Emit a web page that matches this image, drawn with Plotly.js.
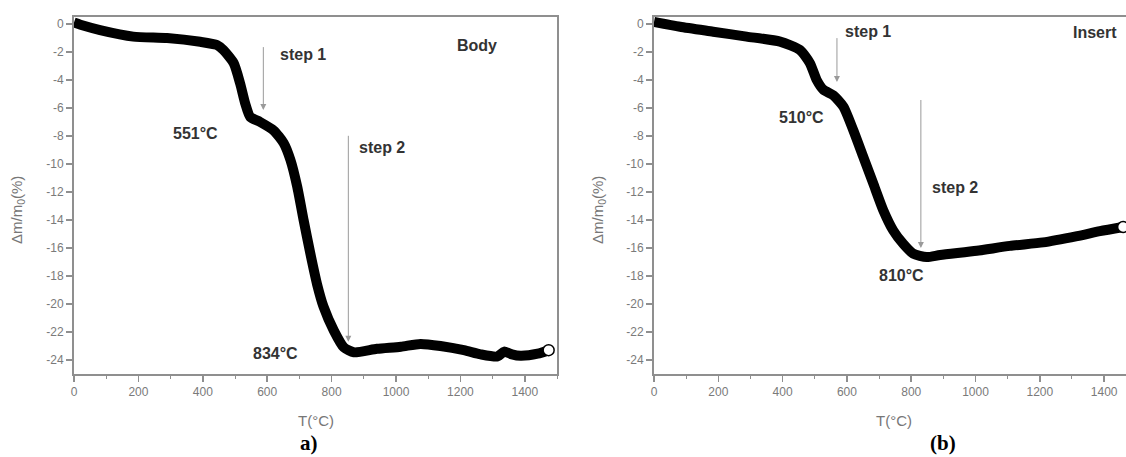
<!DOCTYPE html>
<html>
<head>
<meta charset="utf-8">
<script src="https://cdn.plot.ly/plotly-3.0.1.min.js"></script>
<style>html,body{margin:0;padding:0;background:#fff;}#chart{width:1126px;height:457px;}</style>
</head>
<body>
<div id="chart"></div>
<script>
// ---- data ----
const bodyT = [0, 20, 81, 184, 289, 392, 444, 464, 496, 516, 532, 547, 578, 620, 651, 672, 693, 713, 734, 755, 775, 807, 838, 869, 941, 1015, 1076, 1138, 1211, 1263, 1315, 1336, 1360, 1387, 1440, 1474];
const bodyM = [0.1, -0.05, -0.43, -0.9, -1.0, -1.27, -1.5, -1.86, -2.8, -4.25, -5.7, -6.63, -7.0, -7.6, -8.5, -9.7, -11.6, -14.0, -16.4, -18.6, -20.2, -21.9, -23.1, -23.45, -23.2, -23.05, -22.85, -23.0, -23.3, -23.6, -23.75, -23.4, -23.6, -23.7, -23.55, -23.3];

const insertT = [0, 81, 184, 288, 392, 454, 485, 506, 527, 558, 589, 620, 651, 682, 713, 744, 775, 806, 848, 890, 1004, 1107, 1210, 1316, 1387, 1459];
const insertM = [0.15, -0.2, -0.55, -0.9, -1.26, -1.86, -2.8, -4.0, -4.7, -5.1, -5.9, -7.6, -9.5, -11.4, -13.3, -14.75, -15.7, -16.4, -16.65, -16.5, -16.2, -15.85, -15.6, -15.15, -14.8, -14.5];

const yTickVals = [0, -2, -4, -6, -8, -10, -12, -14, -16, -18, -20, -22, -24];
const yTickText = ["0", "-2", "-4", "-6", "-8", "-10", "-12", "-14", "-16", "-18", "-20", "-22", "-24"];

// step annotations: [label, T, m]
const bodySteps = [["step 1", 588, -6.15], ["step 2", 852, -22.7]];
const insertSteps = [["step 1", 569, -4.15], ["step 2", 830, -16.0]];
const bodyTemps = [["551°C", 376, -7.8], ["834°C", 625, -23.5]];
const insertTemps = [["510°C", 460, -6.66], ["810°C", 771, -17.97]];

// ---- styling ----
const W = 1126, H = 457;
const axisGray = '#8f8f8f';
const tickFont = {family: 'Liberation Sans, Arial, sans-serif', size: 12, color: '#7a7a7a'};
const annFont = {family: 'Liberation Sans, Arial, sans-serif', size: 16, color: '#333'};
const titleFont = {family: 'Liberation Sans, Arial, sans-serif', size: 15, color: '#777'};
const panelFont = {family: 'Liberation Serif, Times New Roman, serif', size: 21, color: '#000'};

function curve(x, y, xa, ya) {
  return [
    {x: x, y: y, xaxis: xa, yaxis: ya, mode: 'lines', type: 'scatter',
     line: {color: '#000', width: 10, shape: 'spline', smoothing: 0.6}, hoverinfo: 'skip'},
    {x: [x[x.length - 1]], y: [y[y.length - 1]], xaxis: xa, yaxis: ya, mode: 'markers', type: 'scatter',
     marker: {symbol: 'circle', size: 11, color: '#fff', line: {color: '#000', width: 1.5}}, hoverinfo: 'skip'}
  ];
}

const data = [].concat(curve(bodyT, bodyM, 'x', 'y'), curve(insertT, insertM, 'x2', 'y2'));

const yDom = [(H - 374) / H, (H - 17) / H];
function xAxis(dom, range) {
  return {domain: dom, range: range, tickmode: 'linear', tick0: 0, dtick: 200,
    ticks: 'outside', ticklen: 6, tickwidth: 1.5, tickcolor: axisGray,
    minor: {tickmode: 'linear', tick0: 0, dtick: 100, ticks: 'outside', ticklen: 3, tickcolor: axisGray, tickwidth: 1},
    showline: true, mirror: true, linecolor: axisGray, linewidth: 2,
    showgrid: false, zeroline: false, tickfont: tickFont, fixedrange: true};
}
function yAxis(anchor) {
  return {domain: yDom, range: [-25, 0.5], anchor: anchor, tickmode: 'array',
    tickvals: yTickVals, ticktext: yTickText,
    ticks: 'outside', ticklen: 6, tickwidth: 1.5, tickcolor: axisGray,
    showline: true, mirror: true, linecolor: axisGray, linewidth: 2,
    showgrid: false, zeroline: false, tickfont: tickFont, fixedrange: true};
}

const annotations = [];
function addSteps(steps, tailOffsets, textPos, xr, yr) {
  steps.forEach((s, i) => {
    annotations.push({x: s[1], y: s[2], xref: xr, yref: yr, text: ' ', showarrow: true,
      ax: 0, ay: tailOffsets[i], axref: 'pixel', ayref: 'pixel',
      arrowcolor: '#9a9a9a', arrowwidth: 1, arrowhead: 2, arrowsize: 1.2, standoff: 0,
      font: {size: 1}});
    annotations.push({x: textPos[i][0], y: textPos[i][1], xref: xr, yref: yr, text: '<b>' + s[0] + '</b>',
      showarrow: false, font: annFont, xanchor: 'center', yanchor: 'middle'});
  });
}
addSteps(bodySteps, [-65, -208], [[712, -2.15], [955, -8.8]], 'x', 'y');
addSteps(insertSteps, [-46, -150], [[666, -0.55], [936, -11.67]], 'x2', 'y2');
bodyTemps.forEach(t => annotations.push({x: t[1], y: t[2], xref: 'x', yref: 'y', text: '<b>' + t[0] + '</b>',
  showarrow: false, font: annFont}));
insertTemps.forEach(t => annotations.push({x: t[1], y: t[2], xref: 'x2', yref: 'y2', text: '<b>' + t[0] + '</b>',
  showarrow: false, font: annFont}));
annotations.push({x: 1253, y: -1.57, xref: 'x', yref: 'y', text: '<b>Body</b>', showarrow: false, font: annFont});
annotations.push({x: 1372, y: -0.64, xref: 'x2', yref: 'y2', text: '<b>Insert</b>', showarrow: false, font: annFont});

// axis titles and panel labels
const yTitle = 'Δm/m<sub>0</sub>(%)';
[[18, 210], [599, 210]].forEach(p => annotations.push({x: p[0] / W, y: (H - p[1]) / H, xref: 'paper', yref: 'paper',
  text: yTitle, textangle: -90, showarrow: false, font: titleFont, xanchor: 'center', yanchor: 'middle'}));
[[316, 420], [894, 420]].forEach(p => annotations.push({x: p[0] / W, y: (H - p[1]) / H, xref: 'paper', yref: 'paper',
  text: 'T(°C)', showarrow: false, font: titleFont, xanchor: 'center', yanchor: 'middle'}));
[['a)', 309, 443], ['(b)', 943, 443]].forEach(p => annotations.push({x: p[1] / W, y: (H - p[2]) / H, xref: 'paper', yref: 'paper',
  text: '<b>' + p[0] + '</b>', showarrow: false, font: panelFont, xanchor: 'center', yanchor: 'middle'}));

const layout = {
  width: W, height: H, autosize: false,
  margin: {l: 0, r: 0, t: 0, b: 0, pad: 0},
  paper_bgcolor: '#fff', plot_bgcolor: '#fff',
  showlegend: false,
  xaxis: xAxis([74 / W, 557 / W], [0, 1500]),
  yaxis: yAxis('x'),
  xaxis2: Object.assign(xAxis([654 / W, 1], [0, 1468]), {anchor: 'y2'}),
  yaxis2: yAxis('x2'),
  annotations: annotations
};
layout.xaxis.anchor = 'y';

Plotly.newPlot('chart', data, layout, {staticPlot: true, displayModeBar: false});
</script>
</body>
</html>
